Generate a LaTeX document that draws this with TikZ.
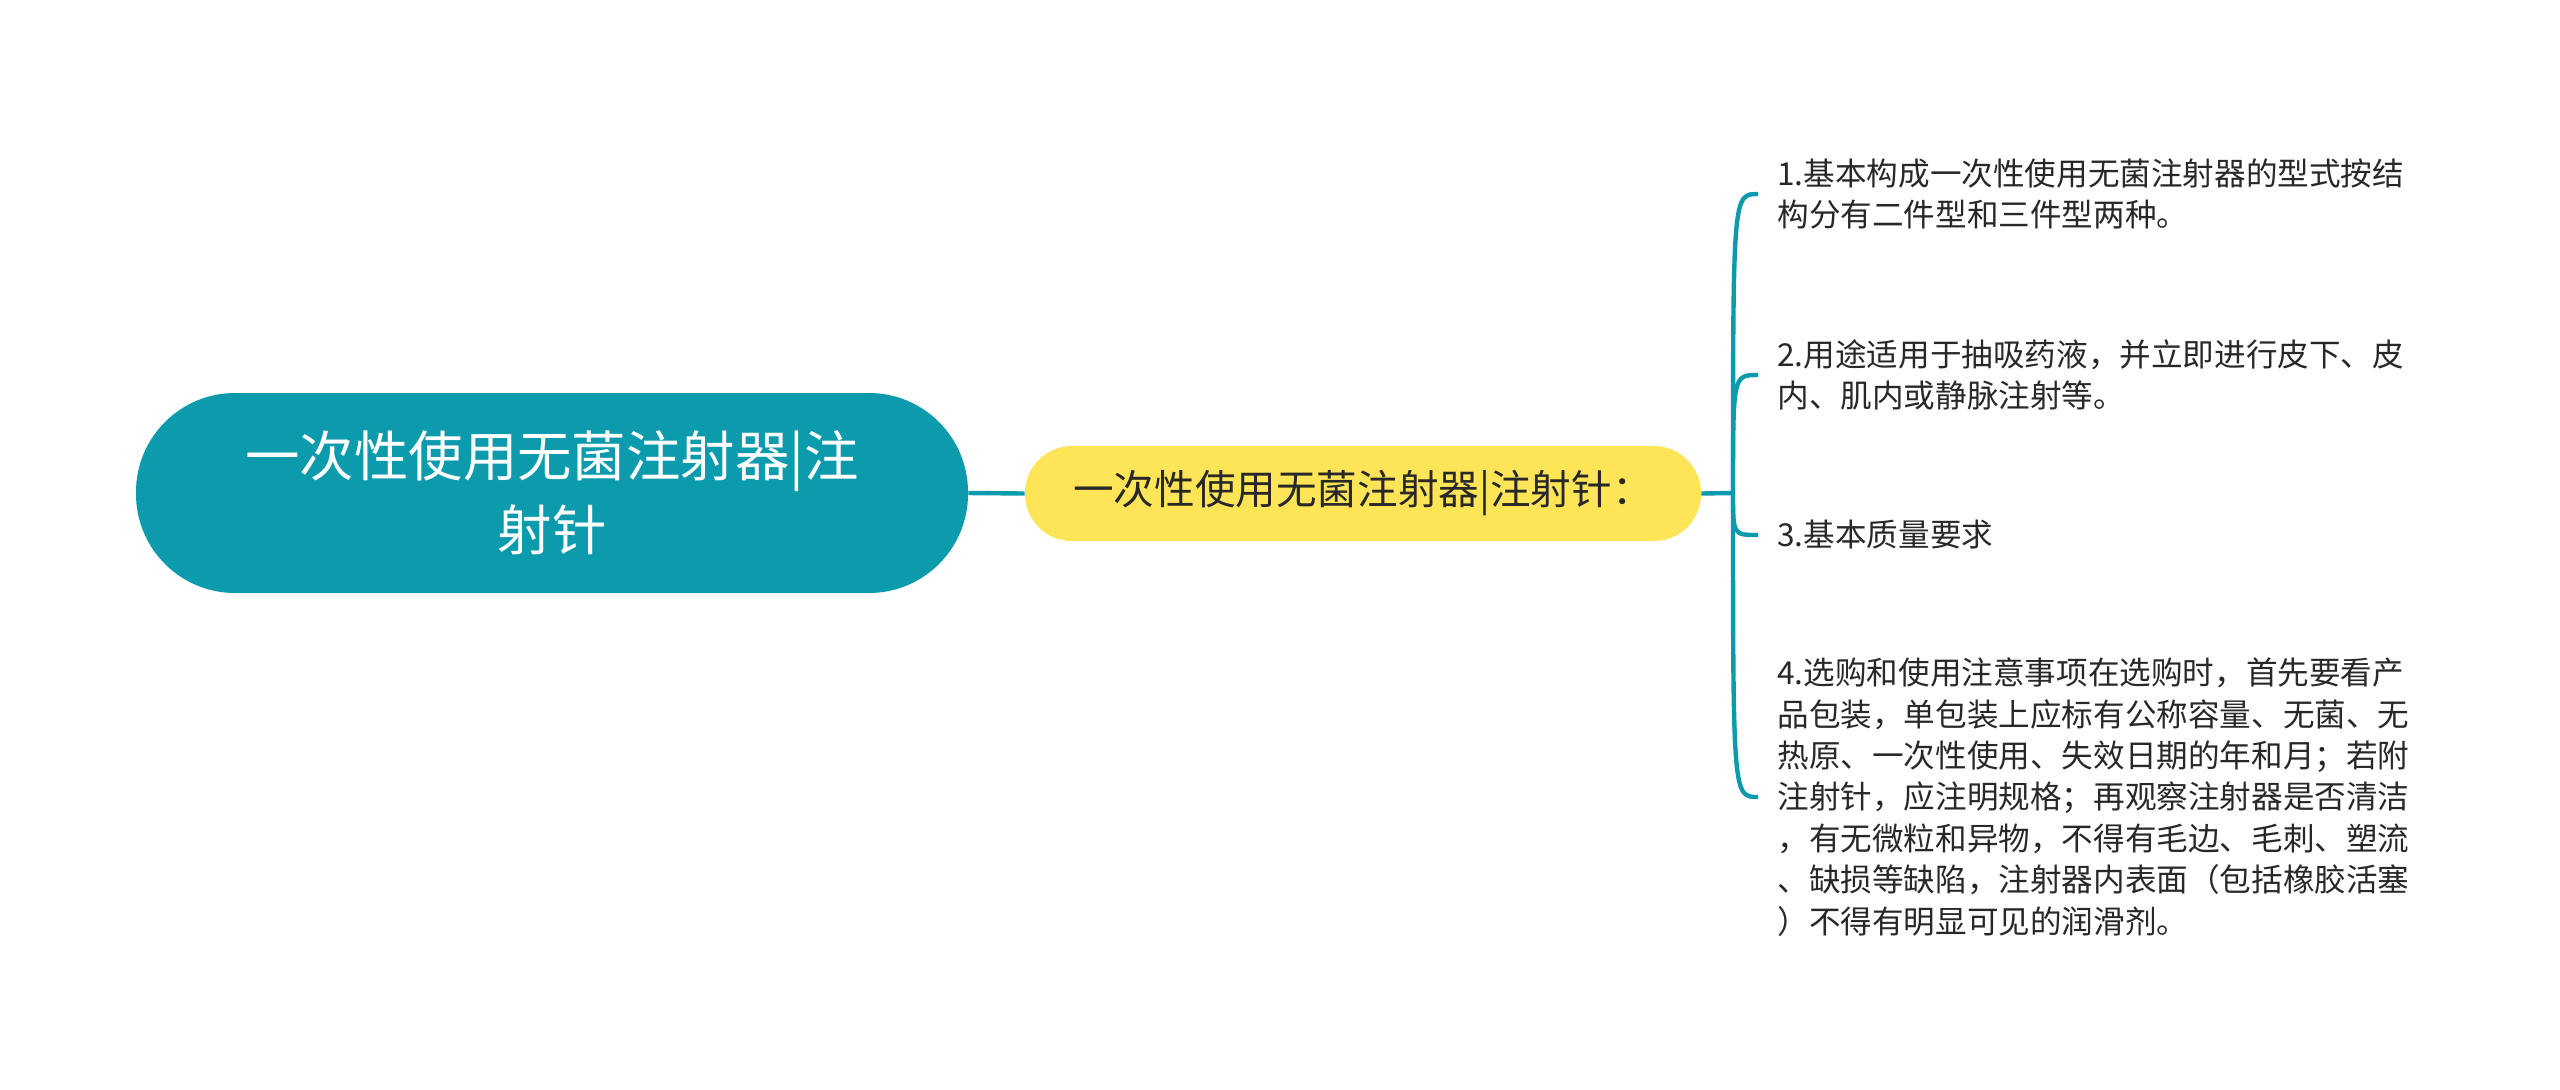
\documentclass[tikz,border=0pt]{standalone}
\usepackage{fontspec}
\setmainfont{Noto Sans CJK SC}
\usetikzlibrary{positioning}
\definecolor{tealmap}{RGB}{12,155,172}
\definecolor{yelmap}{RGB}{254,229,88}
\definecolor{txtmap}{RGB}{40,40,40}
\tikzset{
	topic/.style={fill=tealmap, text=white, rounded corners=49.5pt, minimum width=416pt, minimum height=100pt, align=center, inner sep=0pt, font=\fontsize{27.2}{37}\selectfont},
	subtopic/.style={fill=yelmap, text=txtmap, rounded corners=23.5pt, minimum width=338pt, minimum height=47.5pt, inner sep=0pt, font=\fontsize{20.3}{24}\selectfont},
	leaf/.style={anchor=west, align=left, text=txtmap, inner xsep=9.5pt, inner ysep=0pt, font=\fontsize{15.8}{20.7}\selectfont},
	link/.style={draw=tealmap, line width=2.2pt}
}
\begin{document}
\begin{tikzpicture}[x=0.5pt, y=-0.5pt]
	\useasboundingbox (0,0) rectangle (2560,1089);
	\node[topic] (root) at (552,493) {一次性使用无菌注射器|注\\射针};
	\node[subtopic] (mid) at (1363,493.5) {一次性使用无菌注射器|注射针：};
	\coordinate (j) at (1733,493);
	\node[leaf] (p1) at (1758,194) {1.基本构成一次性使用无菌注射器的型式按结\\构分有二件型和三件型两种。};
	\node[leaf] (p2) at (1758,375) {2.用途适用于抽吸药液，并立即进行皮下、皮\\内、肌内或静脉注射等。};
	\node[leaf] (p3) at (1758,535) {3.基本质量要求};
	\node[leaf] (p4) at (1758,797) {4.选购和使用注意事项在选购时，首先要看产\\品包装，单包装上应标有公称容量、无菌、无\\热原、一次性使用、失效日期的年和月；若附\\注射针，应注明规格；再观察注射器是否清洁\\，有无微粒和异物，不得有毛边、毛刺、塑流\\、缺损等缺陷，注射器内表面（包括橡胶活塞\\）不得有明显可见的润滑剂。};
	\draw[link] (root.east) -- (mid.west);
	\draw[link] (mid.east) -- (j);
	\foreach \p in {p1,p2,p3,p4}
		\draw[link] (j) .. controls (j |- \p.west) .. (\p.west);
\end{tikzpicture}
\end{document}
